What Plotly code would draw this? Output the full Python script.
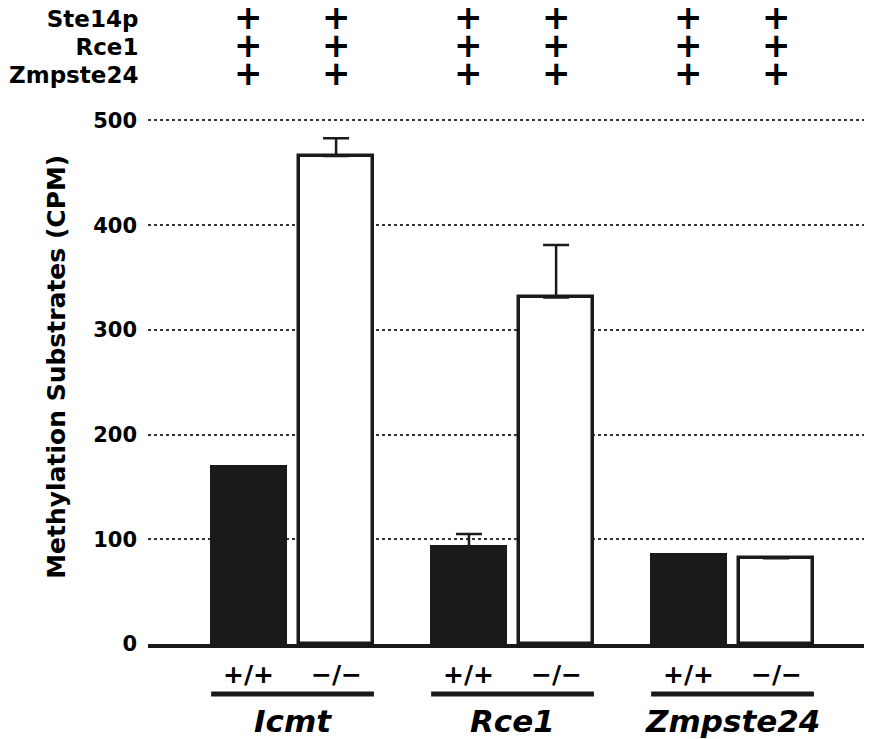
import plotly.graph_objects as go

# ---- data ----
genes = ["Icmt", "Rce1", "Zmpste24"]
genotypes = ["+/+", "−/−"]
wt_values = [169, 93, 85]        # +/+ (black bars)
ko_values = [466, 331, 82]       # -/- (white bars)
wt_err = [0, 12, 0]
ko_err = [17, 50, 0]
row_labels = ["Ste14p", "Rce1", "Zmpste24"]
row_marks = ["+", "+", "+"]
y_ticks = [0, 100, 200, 300, 400, 500]

FONT = "DejaVu Sans"
OFF = 0.198
BW = 0.34

gx = list(range(len(genes)))
fig = go.Figure()
fig.add_trace(go.Bar(
    x=[g - OFF for g in gx], y=wt_values, width=BW,
    marker=dict(color="#1a1a1a", line=dict(color="#1a1a1a", width=3)),
    error_y=dict(type="data", symmetric=False, array=wt_err,
                 arrayminus=[0] * len(gx), color="#1a1a1a", thickness=2.5, width=13),
    showlegend=False))
fig.add_trace(go.Bar(
    x=[g + OFF for g in gx], y=ko_values, width=BW,
    marker=dict(color="white", line=dict(color="#1a1a1a", width=3.5)),
    error_y=dict(type="data", symmetric=False, array=ko_err,
                 arrayminus=[0] * len(gx), color="#1a1a1a", thickness=2.5, width=13),
    showlegend=False))

ann = []
bold = dict(family=FONT, color="black", weight="bold")
# top block: row labels and columns of plus signs (base size sets 28px line spacing)
ROW_MID = 1.1217
lab_txt = "<br>".join('<span style="font-size:23px">%s</span>' % t for t in row_labels)
ann.append(dict(text=lab_txt, xref="paper", yref="paper", x=-0.011, y=ROW_MID - 0.004,
                xanchor="right", yanchor="middle", align="right", showarrow=False,
                font=dict(size=21.5, **bold)))
plus_txt = "<br>".join('<span style="font-size:34px">%s</span>' % m for m in row_marks)
for g in gx:
    for s in (-OFF, OFF):
        ann.append(dict(text=plus_txt, xref="x", yref="paper", x=g + s, y=ROW_MID,
                        xanchor="center", yanchor="middle", showarrow=False,
                        font=dict(size=21.5, **bold)))
# bottom genotype labels and gene names
shapes = []
for g, name in zip(gx, genes):
    for s, gt in zip((-OFF, OFF), genotypes):
        ann.append(dict(text=gt, xref="x", yref="paper", x=g + s, y=-0.058,
                        xanchor="center", yanchor="middle", showarrow=False,
                        font=dict(size=25, **bold)))
    ann.append(dict(text="<i>" + name + "</i>", xref="x", yref="paper", x=g, y=-0.145,
                    xanchor="center", yanchor="middle", showarrow=False,
                    font=dict(size=31, **bold)))
    shapes.append(dict(type="line", xref="x", yref="paper", x0=g - 0.37, x1=g + 0.37,
                       y0=-0.0936, y1=-0.0936, line=dict(color="#1a1a1a", width=5)))

ann.append(dict(text="Methylation Substrates (CPM)", xref="paper", yref="paper",
                x=-0.1257, y=0.519, textangle=-90, xanchor="center", yanchor="middle",
                showarrow=False, font=dict(size=25, **bold)))

# the page body adds an 8px offset; size the figure so it fills the window exactly
fig.update_layout(
    width=864, height=731,
    margin=dict(l=140, r=0, t=102, b=95),
    plot_bgcolor="white", paper_bgcolor="white",
    bargap=0, barmode="overlay",
    annotations=ann, shapes=shapes,
    xaxis=dict(range=[-0.657, 2.634], showticklabels=False, showgrid=False,
               zeroline=False, showline=True, linecolor="#1a1a1a", linewidth=4,
               ticks=""),
    yaxis=dict(range=[0, 510], tickvals=y_ticks, showgrid=True, griddash="dot",
               gridcolor="#333333", gridwidth=2, zeroline=False, showline=False,
               ticks="", ticklabelstandoff=10,
               tickfont=dict(family=FONT, size=21, color="black", weight="bold")),
)

fig.write_html("out.html")
